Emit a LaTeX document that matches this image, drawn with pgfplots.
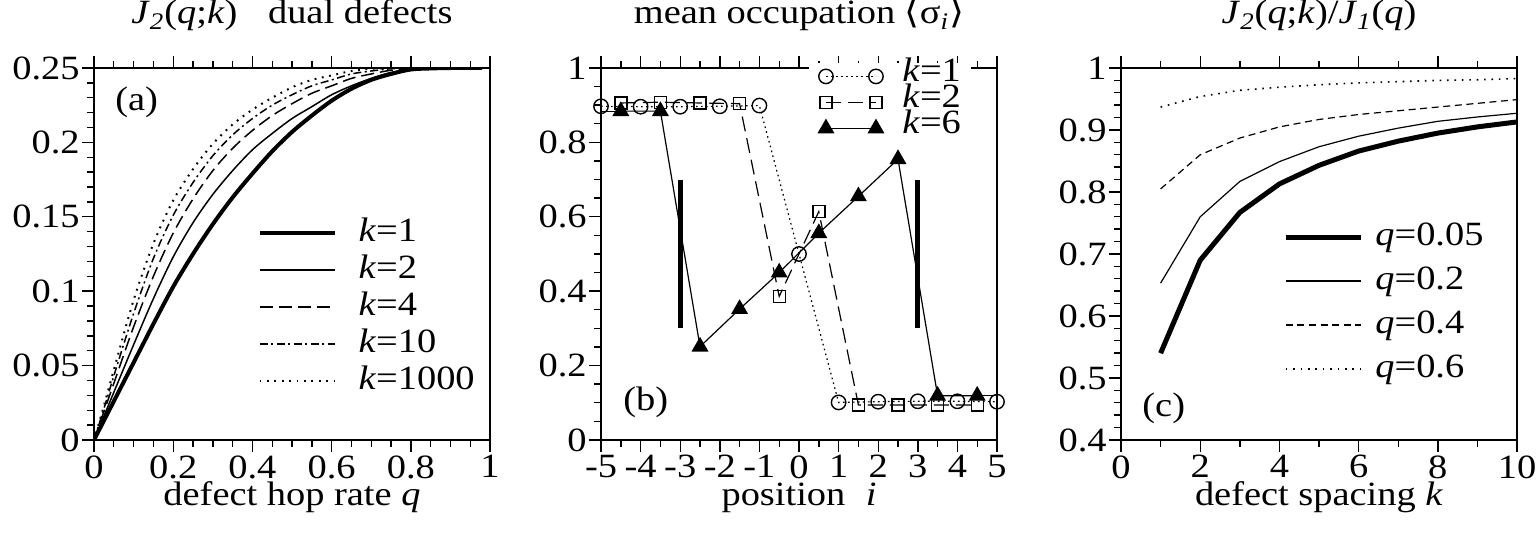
\documentclass[border=0pt]{standalone}
\usepackage{fontspec}
\setmainfont{Liberation Serif}[FakeStretch=1.13]
\newfontfamily\dvs{DejaVu Serif}[FakeStretch=1.13]
\usepackage{pgfplots}
\usepackage{pgfplotstable}
\pgfplotsset{compat=1.18}

\pgfplotstableread{
q     k1     k2     k4     k10    k1000
0     0      0      0      0      0
0.025 0.013  0.016  0.019  0.021  0.023
0.05  0.026  0.032  0.038  0.043  0.047
0.1   0.052  0.064  0.076  0.085  0.094
0.15  0.078  0.095  0.110  0.122  0.132
0.2   0.103  0.123  0.139  0.151  0.161
0.25  0.125  0.146  0.162  0.173  0.182
0.3   0.145  0.165  0.181  0.191  0.199
0.35  0.163  0.181  0.196  0.205  0.212
0.4   0.179  0.195  0.208  0.216  0.222
0.45  0.194  0.206  0.218  0.225  0.230
0.5   0.207  0.216  0.226  0.232  0.237
0.55  0.218  0.224  0.233  0.238  0.242
0.6   0.228  0.232  0.238  0.242  0.245
0.65  0.236  0.238  0.243  0.246  0.248
0.7   0.242  0.243  0.246  0.248  0.2495
0.75  0.246  0.247  0.2485 0.2495 0.25
0.8   0.249  0.249  0.2497 0.25   0.25
0.85  0.2497 0.2498 0.25   0.25   0.25
0.9   0.25   0.25   0.25   0.25   0.25
0.98  0.25   0.25   0.25   0.25   0.25
}\tabA

\pgfplotstableread{
k  q005   q02    q04    q06
1  0.540  0.653  0.805  0.937
2  0.690  0.760  0.860  0.954
3  0.767  0.817  0.887  0.964
4  0.813  0.849  0.905  0.969
5  0.843  0.873  0.917  0.973
6  0.866  0.890  0.925  0.976
7  0.882  0.903  0.931  0.978
8  0.895  0.914  0.937  0.980
9  0.905  0.921  0.943  0.981
10 0.913  0.927  0.949  0.983
}\tabC

\begin{document}
\fontsize{17}{20}\selectfont
\begin{tikzpicture}
\useasboundingbox (0pt,0pt) rectangle (770pt,278pt);
\pgfplotsset{
  myax/.style={scale only axis, width=198pt, height=186pt, anchor=south west,
    xtick pos=both, ytick pos=left, tick align=outside,
    major tick length=6pt, minor tick length=3.5pt,
    tick style={black, line width=0.7pt},
    axis line style={line width=1pt},
    xticklabel style={inner sep=1.5pt}, yticklabel style={inner sep=1pt},
    title style={at={(0.5,1)}, anchor=base, yshift=16pt, inner sep=0pt},
    xlabel style={at={(0.5,0)}, anchor=base, yshift=-32.5pt, inner sep=0pt},
    legend cell align=left,
    /pgf/number format/assume math mode=true,
  }
}
% ---------------- (a)
\begin{axis}[myax, at={(47pt,58pt)},
  xmin=0, xmax=1, ymin=0, ymax=0.25,
  xtick={0,0.2,0.4,0.6,0.8,1}, xticklabels={0,0.2,0.4,0.6,0.8,1}, minor x tick num=3,
  ytick={0,0.05,0.1,0.15,0.2,0.25}, yticklabels={0,0.05,0.1,0.15,0.2,0.25}, minor y tick num=4,
  title={\textit{J}\textsubscript{\textit{2}}(\textit{q};\textit{k})\hspace{0.9em}dual defects},
  xlabel={defect hop rate \textit{q}},
  legend image code/.code={\draw[#1] (0pt,0pt) -- (37.5pt,0pt);},
  legend style={at={(0.412,0.602)}, anchor=north west, draw=none, fill=none,
    inner sep=0pt, row sep=2pt, column sep=11pt,
    nodes={inner sep=0pt, text height=12.5pt, text depth=4pt}},
]
\addplot[black, line width=2pt, smooth] table[x=q,y=k1] {\tabA};
\addlegendentry{\textit{k}=1}
\addplot[black, line width=0.75pt, smooth] table[x=q,y=k2] {\tabA};
\addlegendentry{\textit{k}=2}
\addplot[black, line width=0.75pt, smooth, dash pattern=on 6.5pt off 3pt] table[x=q,y=k4] {\tabA};
\addlegendentry{\textit{k}=4}
\addplot[black, line width=0.75pt, smooth, dash pattern=on 4pt off 1.75pt on 1pt off 1.75pt] table[x=q,y=k10] {\tabA};
\addlegendentry{\textit{k}=10}
\addplot[black, line width=1pt, smooth, dash pattern=on 0.9pt off 2.8pt] table[x=q,y=k1000] {\tabA};
\addlegendentry{\textit{k}=1000}
\node[anchor=base west, inner sep=0pt] at (rel axis cs:0.053,0.887) {(a)};
\end{axis}
% ---------------- (b)
\begin{axis}[myax, at={(300.5pt,58pt)},
  xmin=-5, xmax=5, ymin=0, ymax=1,
  xtick={-5,-4,-3,-2,-1,0,1,2,3,4,5}, xticklabels={-5,-4,-3,-2,-1,0,1,2,3,4,5}, minor x tick num=1,
  ytick={0,0.2,0.4,0.6,0.8,1}, yticklabels={0,0.2,0.4,0.6,0.8,1}, minor y tick num=3,
  title={mean occupation {\dvs ⟨}σ\textsubscript{\textit{i}}{\dvs ⟩}},
  xlabel={position\hspace{0.6em}\textit{i}},
  legend image code/.code={\draw[mark repeat=1,mark phase=1,#1] plot coordinates {(0pt,0pt) (25pt,0pt)};},
  legend style={at={(0.523,1.0134)}, anchor=north west, draw=none, fill=white,
    inner xsep=5pt, inner ysep=1pt, row sep=2pt, column sep=9.5pt,
    nodes={inner sep=0pt, text height=8pt, text depth=3pt}},
]
\addplot[black, line width=0.6pt, dash pattern=on 0.8pt off 1.7pt, mark=o, mark size=3.6pt, mark options={solid, line width=0.7pt}]
 coordinates {(-5,0.897)(-4,0.896)(-3,0.896)(-2,0.897)(-1,0.899)(0,0.5)(1,0.101)(2,0.103)(3,0.104)(4,0.104)(5,0.103)};
\addlegendentry{\textit{k}=1}
\addplot[black, line width=0.6pt, dash pattern=on 7.5pt off 3.5pt, mark=square, mark size=3pt, mark options={solid, line width=0.7pt}]
 coordinates {(-4.5,0.906)(-3.5,0.908)(-2.5,0.906)(-1.5,0.904)(-0.5,0.386)(0.5,0.614)(1.5,0.094)(2.5,0.094)(3.5,0.094)(4.5,0.094)};
\addlegendentry{\textit{k}=2}
\addplot[black, line width=0.6pt, mark=triangle*, mark size=4.3pt, mark options={solid, fill=black}]
 coordinates {(-4.5,0.884)(-3.5,0.884)(-2.5,0.251)(-1.5,0.352)(-0.5,0.45)(0.5,0.556)(1.5,0.655)(2.5,0.755)(3.5,0.119)(4.5,0.119)};
\addlegendentry{\textit{k}=6}
\addplot[black, line width=0.6pt, forget plot] coordinates {(-5,0.884)(-4.5,0.884)};
\addplot[black, line width=0.6pt, forget plot] coordinates {(4.5,0.119)(5,0.119)};
\addplot[black, line width=2.4pt, forget plot] coordinates {(-3,0.3)(-3,0.7)};
\addplot[black, line width=2.4pt, forget plot] coordinates {(3,0.3)(3,0.7)};
\node[anchor=base west, inner sep=0pt] at (rel axis cs:0.0556,0.078) {(b)};
\end{axis}
% ---------------- (c)
\begin{axis}[myax, at={(560.5pt,58pt)},
  xmin=0, xmax=10, ymin=0.4, ymax=1,
  xtick={0,2,4,6,8,10}, xticklabels={0,2,4,6,8,10}, minor x tick num=1,
  ytick={0.4,0.5,0.6,0.7,0.8,0.9,1}, yticklabels={0.4,0.5,0.6,0.7,0.8,0.9,1}, minor y tick num=4,
  title={\textit{J}\textsubscript{\textit{2}}(\textit{q};\textit{k})/\textit{J}\textsubscript{\textit{1}}(\textit{q})},
  xlabel={defect spacing \textit{k}},
  legend image code/.code={\draw[#1] (0pt,0pt) -- (37.5pt,0pt);},
  legend style={at={(0.409,0.591)}, anchor=north west, draw=none, fill=none,
    inner sep=0pt, row sep=5.5pt, column sep=6pt,
    nodes={inner sep=0pt, text height=12.5pt, text depth=4pt}},
]
\addplot[black, line width=2.5pt] table[x=k,y=q005] {\tabC};
\addlegendentry{\textit{q}=0.05}
\addplot[black, line width=0.6pt] table[x=k,y=q02] {\tabC};
\addlegendentry{\textit{q}=0.2}
\addplot[black, line width=0.6pt, dash pattern=on 3.5pt off 2.3pt] table[x=k,y=q04] {\tabC};
\addlegendentry{\textit{q}=0.4}
\addplot[black, line width=0.8pt, dash pattern=on 0.8pt off 2.9pt] table[x=k,y=q06] {\tabC};
\addlegendentry{\textit{q}=0.6}
\node[anchor=base west, inner sep=0pt] at (rel axis cs:0.053,0.0645) {(c)};
\end{axis}
\end{tikzpicture}
\end{document}
